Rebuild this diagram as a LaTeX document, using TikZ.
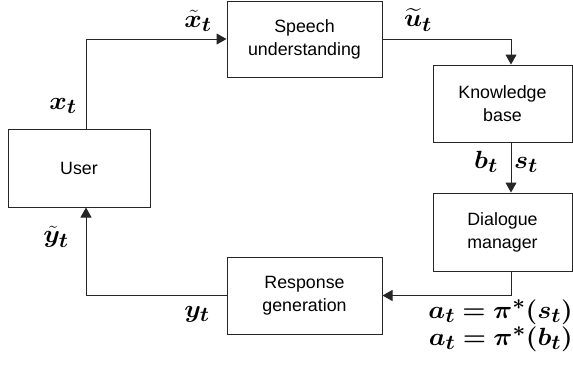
\documentclass[tikz,border=0pt]{standalone}
\usepackage{fontspec}
\setmainfont{Liberation Sans}
\usepackage{amsmath}
\usepackage{bm}
\usetikzlibrary{arrows.meta,calc}
\newcommand{\mylab}[1]{\scalebox{1.07}[1]{$#1$}}
\tikzset{
  blk/.style={draw=black!85, line width=1pt, fill=white, align=center,
    font=\fontsize{17.8}{23}\selectfont, inner sep=0pt},
  arr/.style={draw=black!85, line width=1pt, -{Triangle[length=10pt,width=11pt]}},
  lbl/.style={inner sep=0pt, font=\fontsize{30}{33}\selectfont},
}
\begin{document}
\begin{tikzpicture}[x=1pt,y=-1pt]
\useasboundingbox (0,0) rectangle (573,368);
\node[blk, minimum width=142pt, minimum height=78pt] (user) at (79,168) {User};
\node[blk, minimum width=155pt, minimum height=76pt] (speech) at (304.5,39) {Speech\\understanding};
\node[blk, minimum width=139pt, minimum height=77pt] (know) at (502.5,103.5) {Knowledge\\base};
\node[blk, minimum width=139pt, minimum height=78pt] (dial) at (502.5,232) {Dialogue\\manager};
\node[blk, minimum width=155pt, minimum height=77pt] (resp) at (304.5,295.5) {Response\\generation};
\coordinate (c1) at (86,39);
\coordinate (c2) at (511,39);
\draw[arr] (user.north -| c1) |- (speech.west);
\draw[arr] (speech.east) -| (know.north -| c2);
\draw[arr] (know.south -| c2) -- (dial.north -| c2);
\draw[arr] (dial.south -| c2) |- (resp.east);
\draw[arr] (resp.west) -| (user.south -| c1);
\node[lbl] (lxt) at (198,21) {\mylab{\tilde{\bm{x}}_{\bm{t}}}};
\node[lbl] (lx) at (63,106) {\mylab{\bm{x}_{\bm{t}}}};
\node[lbl] (lut) at (418,20) {\mylab{\widetilde{\bm{u}}_{\bm{t}}}};
\node[lbl] (lb) at (486,162) {\mylab{\bm{b}_{\bm{t}}}};
\node[lbl] (ls) at (526,165) {\mylab{\bm{s}_{\bm{t}}}};
\node[lbl] (lyt) at (56,237) {\mylab{\tilde{\bm{y}}_{\bm{t}}}};
\node[lbl] (ly) at (197,314) {\mylab{\bm{y}_{\bm{t}}}};
\node[lbl, anchor=east] (la1) at (573,312) {\mylab{\bm{a}_{\bm{t}}\bm{=}\bm{\pi}^{\bm{*}}\bm{(}\bm{s}_{\bm{t}}\bm{)}}};
\node[lbl, anchor=east] (la2) at (573,339) {\mylab{\bm{a}_{\bm{t}}\bm{=}\bm{\pi}^{\bm{*}}\bm{(}\bm{b}_{\bm{t}}\bm{)}}};
\end{tikzpicture}
\end{document}
